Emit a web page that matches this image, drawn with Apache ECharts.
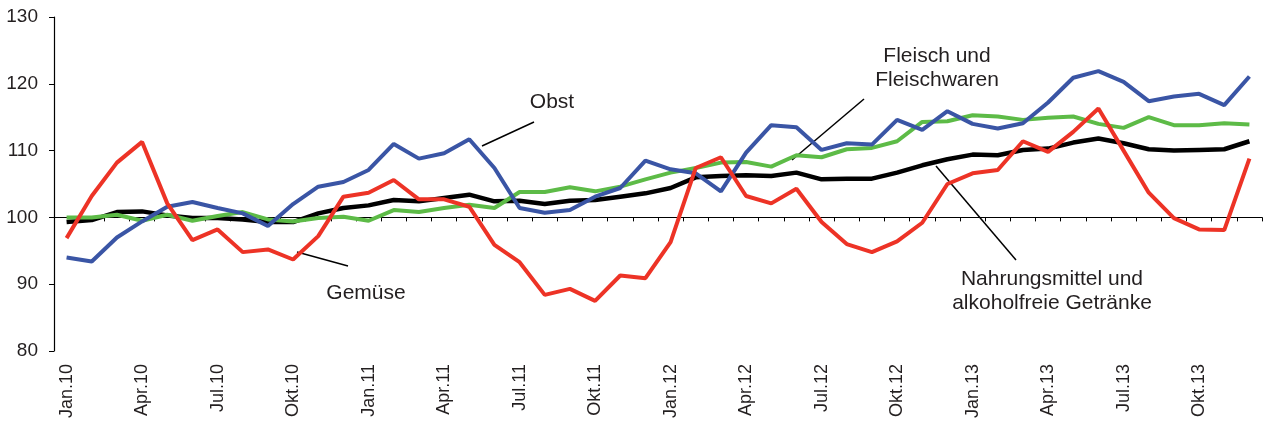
<!DOCTYPE html>
<html>
<head>
<meta charset="utf-8">
<script src="https://cdn.jsdelivr.net/npm/echarts@6/dist/echarts.min.js"></script>
<style>
html,body{margin:0;padding:0;background:#fff;}
#c{width:1264px;height:428px;}
</style>
</head>
<body>
<div id="c"></div>
<script>
const months = ['Jan.','Feb.','Mär.','Apr.','Mai.','Jun.','Jul.','Aug.','Sep.','Okt.','Nov.','Dez.'];
const years = ['10','11','12','13'];
const categories = [];
years.forEach(y => months.forEach(m => categories.push(m + y)));

const yTicks = [80, 90, 100, 110, 120, 130];

const nahrungsmittel = [99.3,99.6,100.8,100.9,100.3,99.9,99.9,99.7,99.3,99.3,100.6,101.4,
  101.8,102.6,102.4,102.9,103.4,102.4,102.5,102.0,102.5,102.6,103.1,103.6,
  104.4,106.0,106.2,106.3,106.2,106.7,105.7,105.8,105.8,106.7,107.8,108.7,
  109.4,109.3,110.1,110.3,111.2,111.8,111.1,110.2,110.0,110.1,110.2,111.4];

const fleisch = [100.0,100.0,100.4,99.5,100.4,99.5,100.2,100.8,99.7,99.4,99.9,100.1,
  99.5,101.1,100.8,101.4,101.9,101.4,103.8,103.8,104.5,103.9,104.6,105.7,
  106.7,107.4,108.2,108.3,107.6,109.3,109.0,110.2,110.4,111.4,114.3,114.4,
  115.3,115.1,114.6,114.9,115.1,114.0,113.4,115.0,113.8,113.8,114.1,113.9];

const obst = [94.0,93.4,97.0,99.4,101.6,102.3,101.4,100.6,98.7,102.0,104.6,105.3,
  107.1,111.0,108.8,109.6,111.7,107.4,101.4,100.7,101.1,103.1,104.4,108.5,
  107.2,106.6,103.9,109.7,113.8,113.5,110.1,111.1,110.9,114.6,113.1,115.9,
  114.0,113.3,114.1,117.2,120.9,121.9,120.3,117.4,118.1,118.5,116.8,121.1];

const gemuese = [96.9,103.2,108.2,111.3,102.1,96.6,98.2,94.8,95.2,93.7,97.2,103.1,
  103.7,105.6,102.7,102.7,101.6,95.9,93.3,88.4,89.3,87.5,91.3,90.9,
  96.3,107.4,109.0,103.2,102.1,104.3,99.3,96.0,94.8,96.4,99.2,105.0,
  106.6,107.1,111.4,109.8,112.8,116.3,110.0,103.7,99.9,98.2,98.1,108.8];

const yMin = yTicks[0], yMax = yTicks[yTicks.length - 1], baseLine = 100;
const gridTop = 17, gridBottom = 77, H = 428;
const gridH = H - gridTop - gridBottom;
const FONT = "'Liberation Sans', Arial, sans-serif";
const TXT = '#231F20';

const chart = echarts.init(document.getElementById('c'), null, {renderer: 'canvas'});

const annot = (x, y, text) => ({
  type: 'text', x: x, y: y,
  style: {text: text, font: '21px ' + FONT, fill: TXT, align: 'center', verticalAlign: 'middle', lineHeight: 24}
});
const lead = (x1, y1, x2, y2) => ({
  type: 'line', shape: {x1, y1, x2, y2}, style: {stroke: '#000', lineWidth: 1.5}
});

chart.setOption({
  animation: false,
  backgroundColor: '#fff',
  grid: {left: 54, right: 2, top: gridTop, bottom: gridBottom, containLabel: false},
  xAxis: [{
    type: 'category', data: categories, boundaryGap: true, position: 'bottom',
    axisLine: {show: false}, axisTick: {show: false},
    axisLabel: {interval: 2, rotate: 90, margin: 13, fontSize: 18, fontFamily: FONT, color: TXT}
  }, {
    type: 'category', data: categories, boundaryGap: true, position: 'bottom',
    offset: -gridH * (baseLine - yMin) / (yMax - yMin),
    axisLine: {show: true, lineStyle: {color: '#000', width: 1.2}},
    axisTick: {show: true, length: 4, interval: 0, lineStyle: {color: '#000', width: 1}},
    axisLabel: {show: false}
  }],
  yAxis: {
    type: 'value', min: yMin, max: yMax, interval: 10,
    axisLine: {show: true, lineStyle: {color: '#000', width: 1.2}},
    axisTick: {show: true, length: 5, lineStyle: {color: '#000'}},
    splitLine: {show: false},
    axisLabel: {margin: 16, fontSize: 19, fontFamily: FONT, color: TXT}
  },
  series: [
    {name: 'Nahrungsmittel und alkoholfreie Getränke', type: 'line', data: nahrungsmittel, xAxisIndex: 0,
      symbol: 'none', lineStyle: {color: '#000000', width: 4.5}, itemStyle: {color: '#000'}},
    {name: 'Fleisch und Fleischwaren', type: 'line', data: fleisch, xAxisIndex: 0,
      symbol: 'none', lineStyle: {color: '#5DBB47', width: 4}, itemStyle: {color: '#5DBB47'}},
    {name: 'Obst', type: 'line', data: obst, xAxisIndex: 0,
      symbol: 'none', lineStyle: {color: '#3A55A5', width: 4}, itemStyle: {color: '#3A55A5'}},
    {name: 'Gemüse', type: 'line', data: gemuese, xAxisIndex: 0,
      symbol: 'none', lineStyle: {color: '#ED3326', width: 4}, itemStyle: {color: '#ED3326'}}
  ],
  graphic: [
    lead(534, 122, 482, 146),
    lead(297, 252, 348, 266),
    lead(864, 99, 792, 160),
    lead(936, 166, 1016, 260),
    annot(552, 102, 'Obst'),
    annot(366, 293, 'Gemüse'),
    annot(937, 68, 'Fleisch und\nFleischwaren'),
    annot(1052, 291, 'Nahrungsmittel und\nalkoholfreie Getränke')
  ]
});
</script>
</body>
</html>
